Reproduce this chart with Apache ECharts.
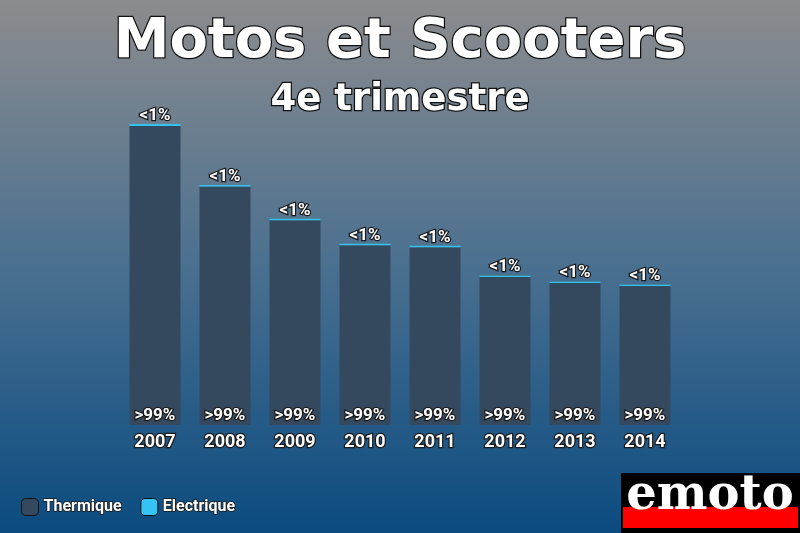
<!DOCTYPE html>
<html>
<head>
<meta charset="utf-8">
<script src="https://cdn.jsdelivr.net/npm/echarts@6/dist/echarts.min.js"></script>
<style>html,body{margin:0;padding:0;}#c{width:800px;height:533px;}</style>
</head>
<body>
<div id="c"></div>
<script>
const years = ['2007','2008','2009','2010','2011','2012','2013','2014'];
const thermique = [30100, 24000, 20600, 18100, 17900, 14900, 14300, 14000];
const electrique = [200, 170, 150, 140, 140, 130, 130, 130];
const labelsThermique = ['>99%','>99%','>99%','>99%','>99%','>99%','>99%','>99%'];
const labelsElectrique = ['<1%','<1%','<1%','<1%','<1%','<1%','<1%','<1%'];

const chart = echarts.init(document.getElementById('c'));
const outline = {color:'#fff', fontFamily:'Roboto', fontWeight:'bold', textBorderColor:'#1a1a1a', textBorderWidth:2.5};
chart.setOption({
  backgroundColor: {type:'linear', x:0, y:0, x2:0, y2:1, colorStops:[
    {offset:0, color:'#8c8c8e'},{offset:0.5, color:'#4a7090'},{offset:1, color:'#0b4b80'}]},
  title: [
    {text:'Motos et Scooters', left:'center', top:9, textStyle:{fontFamily:'DejaVu Sans', fontWeight:'bold', fontSize:56, color:'#fff', textBorderColor:'#111', textBorderWidth:2.5}},
    {text:'4e trimestre', left:'center', top:77, textStyle:{fontFamily:'DejaVu Sans', fontWeight:'bold', fontSize:37, color:'#fff', textBorderColor:'#111', textBorderWidth:2.5}}
  ],
  legend: {left:16, top:493, itemWidth:17, itemHeight:17, itemGap:18,
    textStyle:Object.assign({}, outline, {fontSize:16, textBorderWidth:1.5}),
    data:[{name:'Thermique', itemStyle:{borderColor:'#111', borderWidth:1}},{name:'Electrique', itemStyle:{borderColor:'#111', borderWidth:1}}]},
  grid: {left:120, right:120, top:124, bottom:108},
  xAxis: {type:'category', data:years, axisLine:{show:false}, axisTick:{show:false},
    axisLabel:Object.assign({}, outline, {fontSize:18, margin:8})},
  yAxis: {type:'value', min:0, max:30300, show:false, splitLine:{show:false}},
  series: [
    {name:'Thermique', type:'bar', stack:'a', barWidth:51, data:thermique, itemStyle:{color:'#34495e'},
      label:Object.assign({show:true, position:'insideBottom', distance:1, fontSize:17, formatter:p=>labelsThermique[p.dataIndex]}, outline)},
    {name:'Electrique', type:'bar', stack:'a', barWidth:51, data:electrique, itemStyle:{color:'#35c3f3'},
      label:Object.assign({show:true, position:'top', distance:0, fontSize:17, formatter:p=>labelsElectrique[p.dataIndex]}, outline)}
  ],
  graphic: [
    {type:'rect', shape:{x:621, y:473, width:179, height:60}, style:{fill:'#000'}},
    {type:'rect', shape:{x:623, y:507, width:175, height:21}, style:{fill:'#f00'}},
    {type:'text', x:710, y:497, style:{text:'emoto', fill:'#fff', font:'bold 48px "DejaVu Serif"', align:'center', verticalAlign:'middle'}}
  ]
});
</script>
</body>
</html>
